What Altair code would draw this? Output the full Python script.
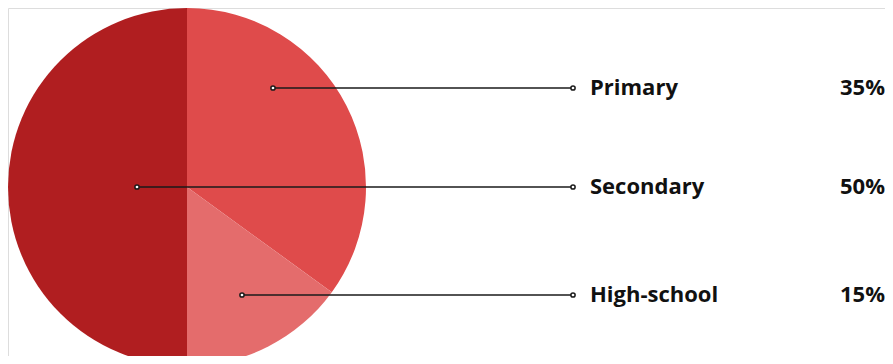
import altair as alt
import pandas as pd

categories = ["Primary", "Secondary", "High-school"]
values = [35, 50, 15]
pct_labels = ["35%", "50%", "15%"]
slice_order = [0, 2, 1]          # clockwise from 12 o'clock: Primary, High-school, Secondary
colors = ["#DF4B4B", "#B01E20", "#E46C6C"]

# layout (pixels inside the chart)
W, H = 877, 348
CX, CY, R = 179, 179, 179
dot_offsets = [(86, -99), (-50, 0), (55, 108)]   # anchor inside each slice relative to centre
LINE_END_X = 565
LABEL_X = 582
PCT_X = 877

pie_df = pd.DataFrame({"category": categories, "value": values, "order": slice_order})

ann_df = pd.DataFrame({
    "category": categories,
    "pct": pct_labels,
    "x0": [CX + dx for dx, dy in dot_offsets],
    "y": [CY + dy for dx, dy in dot_offsets],
    "x1": [LINE_END_X] * 3,
    "lx": [LABEL_X] * 3,
    "px": [PCT_X] * 3,
})
pts_df = pd.concat([
    ann_df[["x0", "y"]].rename(columns={"x0": "x"}),
    ann_df[["x1", "y"]].rename(columns={"x1": "x"}),
])

xs = alt.Scale(domain=[0, W], nice=False, zero=False)
ys = alt.Scale(domain=[0, H], nice=False, zero=False, reverse=True)
color_scale = alt.Scale(domain=categories, range=colors)

pie = alt.Chart(pie_df).mark_arc(outerRadius=R).encode(
    theta=alt.Theta("value:Q", stack=True),
    color=alt.Color("category:N", scale=color_scale, legend=None),
    order=alt.Order("order:Q"),
    x=alt.value(CX),
    y=alt.value(CY),
)

rules = alt.Chart(ann_df).mark_rule(color="#1a1a1a", strokeWidth=1.5).encode(
    x=alt.X("x0:Q", scale=xs, axis=None),
    x2="x1:Q",
    y=alt.Y("y:Q", scale=ys, axis=None),
)

points = alt.Chart(pts_df).mark_point(
    shape="circle", size=18, filled=True, fill="white", stroke="#1a1a1a", strokeWidth=1.5, opacity=1
).encode(
    x=alt.X("x:Q", scale=xs, axis=None),
    y=alt.Y("y:Q", scale=ys, axis=None),
)

labels = alt.Chart(ann_df).mark_text(
    align="left", baseline="middle", font="Open Sans", fontSize=22, fontWeight="bold", color="#111111"
).encode(
    x=alt.X("lx:Q", scale=xs, axis=None),
    y=alt.Y("y:Q", scale=ys, axis=None),
    text="category:N",
)

pcts = alt.Chart(ann_df).mark_text(
    align="right", baseline="middle", font="Open Sans", fontSize=22, fontWeight="bold", color="#111111"
).encode(
    x=alt.X("px:Q", scale=xs, axis=None),
    y=alt.Y("y:Q", scale=ys, axis=None),
    text="pct:N",
)

chart = alt.layer(pie, rules, points, labels, pcts).properties(
    width=W, height=H, padding=0, autosize="none"
).configure_view(strokeWidth=0, stroke="transparent").configure(background="white")

chart.save("out.html", embed_options={"renderer": "svg", "actions": False})
